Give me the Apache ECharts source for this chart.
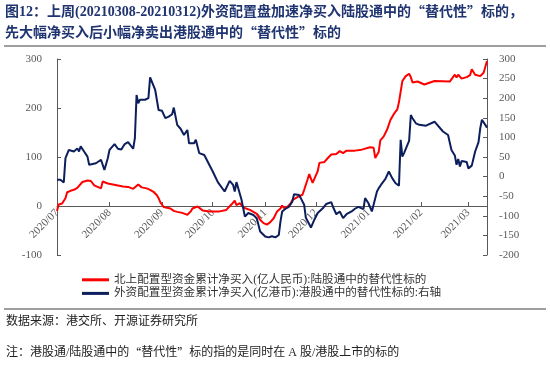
<!DOCTYPE html>
<html>
<head>
<meta charset="utf-8">
<script src="https://cdn.jsdelivr.net/npm/echarts@6/dist/echarts.min.js"></script>
<style>
  html, body { margin: 0; padding: 0; background: #fff; }
  #chart { width: 550px; height: 368px; }
</style>
</head>
<body>
<div id="chart"></div>
<script>
// 北上配置型资金 (左轴, 亿人民币)
const redDates = [
  '2020-07-01', '2020-07-02', '2020-07-04', '2020-07-06', '2020-07-07', '2020-07-09', '2020-07-11', '2020-07-13',
  '2020-07-16', '2020-07-19', '2020-07-21', '2020-07-23', '2020-07-25', '2020-07-27', '2020-07-28', '2020-07-31',
  '2020-08-03', '2020-08-06', '2020-08-09', '2020-08-12', '2020-08-15', '2020-08-16', '2020-08-18', '2020-08-20',
  '2020-08-23', '2020-08-25', '2020-08-27', '2020-08-29', '2020-08-30', '2020-08-31', '2020-09-02', '2020-09-06',
  '2020-09-08', '2020-09-10', '2020-09-13', '2020-09-16', '2020-09-18', '2020-09-19', '2020-09-22', '2020-09-23',
  '2020-09-25', '2020-09-29', '2020-10-05', '2020-10-09', '2020-10-12', '2020-10-14', '2020-10-15', '2020-10-17',
  '2020-10-19', '2020-10-23', '2020-10-27', '2020-10-29', '2020-10-31', '2020-11-02', '2020-11-04', '2020-11-06',
  '2020-11-08', '2020-11-10', '2020-11-11', '2020-11-12', '2020-11-14', '2020-11-16', '2020-11-17', '2020-11-20',
  '2020-11-23', '2020-11-24', '2020-11-26', '2020-11-27', '2020-11-28', '2020-11-29', '2020-12-02', '2020-12-03',
  '2020-12-06', '2020-12-08', '2020-12-10', '2020-12-13', '2020-12-15', '2020-12-17', '2020-12-19', '2020-12-24',
  '2020-12-28', '2021-01-02', '2021-01-04', '2021-01-05', '2021-01-07', '2021-01-08', '2021-01-10', '2021-01-12',
  '2021-01-14', '2021-01-16', '2021-01-18', '2021-01-19', '2021-01-21', '2021-01-23', '2021-01-25', '2021-01-26',
  '2021-01-27', '2021-01-30', '2021-02-03', '2021-02-09', '2021-02-18', '2021-02-19', '2021-02-21', '2021-02-22',
  '2021-02-23', '2021-02-25', '2021-02-28', '2021-03-02', '2021-03-03', '2021-03-05', '2021-03-08', '2021-03-10',
  '2021-03-12'
];
const redValues = [
  -10, 3, 5, 16, 28, 31, 33, 37,
  49, 52, 51, 42, 39, 36, 50, 46,
  44, 42, 40, 39, 35, 36, 44, 38,
  36, 33, 29, 22, 16, 8, -2, -5,
  -10, -12, -14, -18, -11, -5, -1, -5,
  -9, -11, -11, -8, 3, 11, 2, 6,
  -3, -8, -16, -28, -35, -38, -33, -25,
  -11, -5, 1, -4, -2, 5, 12, 18,
  23, 33, 54, 65, 56, 47, 71, 88,
  90, 98, 105, 106, 112, 108, 113, 113,
  115, 120, 119, 98, 110, 134, 142, 156,
  176, 188, 197, 212, 255, 265, 270, 263,
  252, 254, 248, 255, 254, 251, 268, 262,
  268, 260, 263, 267, 279, 268, 265, 272,
  296
];

// 外资配置型资金 (右轴, 亿港币)
const blueDates = [
  '2020-07-01', '2020-07-03', '2020-07-05', '2020-07-06', '2020-07-07', '2020-07-08', '2020-07-11', '2020-07-12',
  '2020-07-13', '2020-07-14', '2020-07-15', '2020-07-17', '2020-07-19', '2020-07-20', '2020-07-21', '2020-07-24',
  '2020-07-27', '2020-07-29', '2020-07-31', '2020-08-01', '2020-08-04', '2020-08-06', '2020-08-08', '2020-08-10',
  '2020-08-12', '2020-08-15', '2020-08-16', '2020-08-17', '2020-08-18', '2020-08-19', '2020-08-22', '2020-08-24',
  '2020-08-25', '2020-08-28', '2020-08-30', '2020-09-01', '2020-09-03', '2020-09-05', '2020-09-07', '2020-09-08',
  '2020-09-10', '2020-09-12', '2020-09-14', '2020-09-16', '2020-09-17', '2020-09-20', '2020-09-21', '2020-09-23',
  '2020-09-24', '2020-09-26', '2020-10-01', '2020-10-04', '2020-10-08', '2020-10-11', '2020-10-13', '2020-10-14',
  '2020-10-15', '2020-10-18', '2020-10-20', '2020-10-22', '2020-10-25', '2020-10-27', '2020-10-29', '2020-11-01',
  '2020-11-03', '2020-11-05', '2020-11-07', '2020-11-09', '2020-11-10', '2020-11-11', '2020-11-13', '2020-11-15',
  '2020-11-17', '2020-11-18', '2020-11-21', '2020-11-22', '2020-11-24', '2020-11-25', '2020-11-28', '2020-11-30',
  '2020-12-02', '2020-12-05', '2020-12-07', '2020-12-10', '2020-12-11', '2020-12-13', '2020-12-15', '2020-12-17',
  '2020-12-19', '2020-12-22', '2020-12-24', '2020-12-26', '2020-12-29', '2020-12-30', '2021-01-01', '2021-01-03',
  '2021-01-04', '2021-01-06', '2021-01-07', '2021-01-09', '2021-01-11', '2021-01-13', '2021-01-14', '2021-01-15',
  '2021-01-17', '2021-01-19', '2021-01-20', '2021-01-21', '2021-01-22', '2021-01-24', '2021-01-25', '2021-01-26',
  '2021-01-27', '2021-01-29', '2021-01-31', '2021-02-04', '2021-02-09', '2021-02-14', '2021-02-17', '2021-02-19',
  '2021-02-21', '2021-02-22', '2021-02-23', '2021-02-24', '2021-02-25', '2021-02-28', '2021-03-01', '2021-03-03',
  '2021-03-05', '2021-03-07', '2021-03-08', '2021-03-09', '2021-03-11', '2021-03-12'
];
const blueValues = [
  -8, -8, -15, 47, 45, 68, 64, 62,
  72, 64, 77, 64, 51, 30, 34, 34,
  43, 17, 47, 68, 83, 71, 69, 83,
  88, 71, 98, 208, 187, 196, 196, 200,
  253, 221, 170, 168, 149, 153, 159, 176,
  132, 122, 106, 119, 85, 85, 94, 60,
  60, 55, 13, -14, -38, -11, -21, -38,
  -14, -59, -102, -93, -98, -106, -140, -153,
  -155, -152, -155, -149, -115, -89, -82, -77,
  -64, -45, -47, -55, -72, -105, -130, -110,
  -93, -81, -70, -65, -77, -96, -89, -106,
  -96, -89, -82, -77, -83, -55, -68, -89,
  -93, -38, -30, -17, -6, 13, 12, -4,
  -17, -23, 94, 51, 60, 81, 91, 157,
  149, 136, 132, 130, 140, 115, 106, 68,
  54, 30, 45, 26, 40, 37, 21, 28,
  64, 88, 123, 145, 132, 125
];

const leftTicks = { min: -100, max: 300, step: 100 };
const rightTicks = { min: -200, max: 300, step: 50 };

const redName = '北上配置型资金累计净买入(亿人民币):陆股通中的替代性标的';
const blueName = '外资配置型资金累计净买入(亿港币):港股通中的替代性标的:右轴';

const serif = '"Liberation Serif", "Times New Roman", "Noto Sans CJK SC", serif';
const cjk = '"Liberation Serif", "Noto Sans CJK SC", sans-serif';
const axisGray = '#595959';
const titleColor = '#1F3470';

const gridTop = 59, gridBottom = 113, chartH = 368;
// x轴画在左轴 0 的位置上
const plotH = chartH - gridTop - gridBottom;
const zeroOffset = -plotH * (0 - leftTicks.min) / (leftTicks.max - leftTicks.min);

const chart = echarts.init(document.getElementById('chart'));

const yAxisBase = {
  type: 'value',
  splitLine: { show: false },
  axisLine: { show: true, lineStyle: { color: axisGray } },
  axisTick: { show: true, inside: true, length: 4, lineStyle: { color: axisGray } },
  axisLabel: { color: axisGray, fontFamily: serif, fontSize: 11 }
};

// 标题里的引号用全角字体
const quoteRich = {
  q: { fontFamily: '"Noto Sans CJK SC"', fontSize: 14, fontWeight: 'bold', fill: titleColor, color: titleColor }
};
const noteRich = {
  q: { fontFamily: '"Noto Sans CJK SC"', fontSize: 12, color: '#222' }
};

chart.setOption({
  animation: false,
  backgroundColor: '#fff',
  grid: { left: 57, right: 63, top: gridTop, bottom: gridBottom, containLabel: false },
  legend: {
    orient: 'vertical',
    left: 77,
    top: 269,
    icon: 'rect',
    itemWidth: 27,
    itemHeight: 3,
    itemGap: 2,
    textStyle: { fontSize: 11.6, color: '#333', fontFamily: cjk },
    data: [redName, blueName]
  },
  xAxis: {
    type: 'time',
    min: redDates[0],
    max: redDates[redDates.length - 1],
    minInterval: 28 * 86400000,
    maxInterval: 31 * 86400000,
    offset: zeroOffset,
    splitLine: { show: false },
    axisLine: { onZero: false, lineStyle: { color: axisGray } },
    axisTick: { show: true, inside: true, length: 4, lineStyle: { color: axisGray } },
    axisLabel: {
      rotate: 45,
      margin: 5,
      color: axisGray,
      fontFamily: serif,
      fontSize: 11,
      hideOverlap: false,
      showMaxLabel: false,
      formatter: (val) => {
        const d = new Date(val);
        if (d.getDate() !== 1) return '';
        const m = d.getMonth() + 1;
        return d.getFullYear() + '/' + (m < 10 ? '0' + m : m);
      }
    }
  },
  yAxis: [
    Object.assign({}, yAxisBase, {
      position: 'left',
      min: leftTicks.min, max: leftTicks.max, interval: leftTicks.step,
      axisLabel: Object.assign({}, yAxisBase.axisLabel, { margin: 15 })
    }),
    Object.assign({}, yAxisBase, {
      position: 'right',
      min: rightTicks.min, max: rightTicks.max, interval: rightTicks.step,
      axisLabel: Object.assign({}, yAxisBase.axisLabel, { margin: 12 })
    })
  ],
  series: [
    {
      name: redName,
      type: 'line',
      yAxisIndex: 0,
      showSymbol: false,
      color: '#FF0000',
      lineStyle: { width: 2, color: '#FF0000' },
      data: redDates.map((d, i) => [d, redValues[i]])
    },
    {
      name: blueName,
      type: 'line',
      yAxisIndex: 1,
      showSymbol: false,
      color: '#0C1E5B',
      lineStyle: { width: 2, color: '#0C1E5B' },
      data: blueDates.map((d, i) => [d, blueValues[i]])
    }
  ],
  graphic: [
    {
      type: 'text', left: 5, top: 5,
      style: {
        text: '图12：上周(20210308-20210312)外资配置盘加速净买入陆股通中的{q|“}替代性{q|”}标的，',
        fontSize: 14, fontWeight: 'bold', fontFamily: cjk, fill: titleColor, rich: quoteRich
      }
    },
    {
      type: 'text', left: 5, top: 26,
      style: {
        text: '先大幅净买入后小幅净卖出港股通中的{q|“}替代性{q|”}标的',
        fontSize: 14, fontWeight: 'bold', fontFamily: cjk, fill: titleColor, rich: quoteRich
      }
    },
    { type: 'line', shape: { x1: 4, y1: 46, x2: 546, y2: 46 }, style: { stroke: '#7f7f7f', lineWidth: 1.5 } },
    { type: 'line', shape: { x1: 4, y1: 309, x2: 546, y2: 309 }, style: { stroke: '#7f7f7f', lineWidth: 1.5 } },
    {
      type: 'text', left: 6, top: 316,
      style: { text: '数据来源：港交所、开源证券研究所', fontSize: 12, fontFamily: cjk, fill: '#222' }
    },
    {
      type: 'text', left: 6, top: 347,
      style: {
        text: '注：港股通/陆股通中的{q|“}替代性{q|”}标的指的是同时在 A 股/港股上市的标的',
        fontSize: 12, fontFamily: cjk, fill: '#222', rich: noteRich
      }
    }
  ]
});
</script>
</body>
</html>
